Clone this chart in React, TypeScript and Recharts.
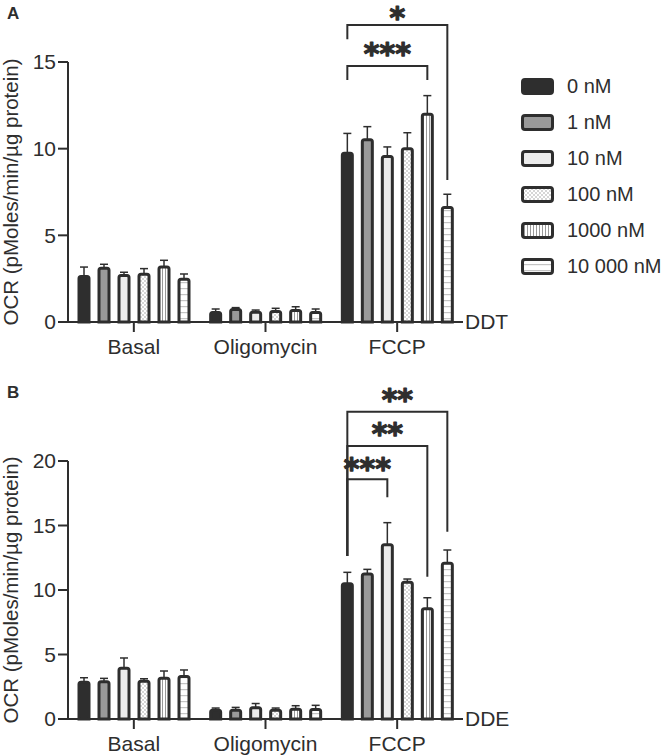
import React from 'react';
import { BarChart, Bar, XAxis, YAxis, ErrorBar, Legend, ReferenceLine, Rectangle, Label } from 'recharts';

const categories = ['Basal', 'Oligomycin', 'FCCP'];
const seriesNames = ['0 nM', '1 nM', '10 nM', '100 nM', '1000 nM', '10 000 nM'];

// Panel A (DDT): mean OCR per concentration, per condition
const ddtBasal = [2.62, 3.1, 2.68, 2.76, 3.18, 2.47];
const ddtBasalErr = [0.55, 0.23, 0.19, 0.32, 0.38, 0.3];
const ddtOligo = [0.55, 0.72, 0.56, 0.6, 0.66, 0.55];
const ddtOligoErr = [0.2, 0.11, 0.13, 0.19, 0.22, 0.2];
const ddtFccp = [9.74, 10.51, 9.55, 9.99, 11.99, 6.6];
const ddtFccpErr = [1.14, 0.76, 0.55, 0.93, 1.07, 0.77];

// Panel B (DDE)
const ddeBasal = [2.84, 2.88, 3.93, 2.93, 3.16, 3.3];
const ddeBasalErr = [0.36, 0.27, 0.8, 0.19, 0.56, 0.5];
const ddeOligo = [0.68, 0.68, 0.88, 0.68, 0.75, 0.73];
const ddeOligoErr = [0.17, 0.22, 0.32, 0.17, 0.28, 0.33];
const ddeFccp = [10.48, 11.25, 13.5, 10.6, 8.54, 12.08];
const ddeFccpErr = [0.89, 0.35, 1.72, 0.25, 0.86, 1.02];

const ddtTicks = [0, 5, 10, 15];
const ddeTicks = [0, 5, 10, 15, 20];

type Bracket = { to: number; text: string; top: number; leftEnd: number; rightEnd: number; textAt: number };
// significance brackets in FCCP group, from 0 nM to series "to" (values in OCR units)
const ddtBrackets: Bracket[] = [
  { to: 4, text: '***', top: 14.77, leftEnd: 13.96, rightEnd: 13.96, textAt: 15.84 },
  { to: 5, text: '*', top: 17.14, leftEnd: 16.31, rightEnd: 8.19, textAt: 17.92 },
];
const ddeBrackets: Bracket[] = [
  { to: 2, text: '***', top: 18.58, leftEnd: 12.64, rightEnd: 17.19, textAt: 19.92 },
  { to: 4, text: '**', top: 21.16, leftEnd: 12.64, rightEnd: 11.03, textAt: 22.56 },
  { to: 5, text: '**', top: 23.82, leftEnd: 12.64, rightEnd: 14.52, textAt: 25.22 },
];

const FONT = '"Liberation Sans", Arial, Helvetica, sans-serif';
const INK = '#2e2e2e';
const BAR_SIZE = 10;
const BAR_GAP = 10;
const STAR_SIZE = 30;
const TICK_SIZE = 21;
const fills = ['#2e2e2e', '#9a9a9a', '#ececec', 'url(#pat100)', 'url(#pat1000)', 'url(#pat10000)'];

function buildRows(means: number[][], errs: number[][]) {
  return categories.map((c, ci) => {
    const row: any = { category: c };
    seriesNames.forEach((_, si) => {
      row[`v${si}`] = means[ci][si];
      row[`e${si}`] = [0, errs[ci][si]];
    });
    return row;
  });
}

const ddtRows = buildRows([ddtBasal, ddtOligo, ddtFccp], [ddtBasalErr, ddtOligoErr, ddtFccpErr]);
const ddeRows = buildRows([ddeBasal, ddeOligo, ddeFccp], [ddeBasalErr, ddeOligoErr, ddeFccpErr]);

function makeShape(si: number, brackets: Bracket[]) {
  return (props: any) => {
    const { x, y, width, height, payload } = props;
    const rect = (
      <Rectangle x={x} y={y} width={width} height={height} radius={[2, 2, 0, 0]} fill={fills[si]} stroke={INK} strokeWidth={3} />
    );
    const mine = brackets.filter((b) => b.to === si);
    if (!mine.length || !payload || payload.category !== 'FCCP') return rect;
    const v = payload[`v${si}`];
    const ppu = height / v;
    const base = y + height;
    const Y = (d: number) => base - d * ppu;
    const cx = x + width / 2;
    const lx = cx - si * (width + BAR_GAP);
    return (
      <g>
        {rect}
        {mine.map((b, i) => (
          <g key={i}>
            <path
              d={`M${lx},${Y(b.leftEnd)}V${Y(b.top)}H${cx}V${Y(b.rightEnd)}`}
              fill="none"
              stroke={INK}
              strokeWidth={2}
            />
            <text
              x={(lx + cx) / 2}
              y={Y(b.textAt) + STAR_SIZE * 0.55}
              textAnchor="middle"
              fontFamily="DejaVu Sans"
              fontWeight="bold"
              fontSize={STAR_SIZE}
              fill={INK}
              stroke={INK}
              strokeWidth={1.2}
              strokeLinejoin="round"
            >
              {b.text}
            </text>
          </g>
        ))}
      </g>
    );
  };
}

const renderLegend = (props: any) => {
  const payload = [...(props.payload || [])].sort(
    (a: any, b: any) => seriesNames.indexOf(a.value) - seriesNames.indexOf(b.value)
  );
  return (
    <div style={{ fontFamily: FONT, fontSize: 20, color: INK, whiteSpace: 'nowrap' }}>
      {payload.map((p: any, i: number) => {
        const idx = seriesNames.indexOf(p.value);
        return (
          <div key={i} style={{ display: 'flex', alignItems: 'center', height: 36 }}>
            <svg width={33} height={17} style={{ marginRight: 13, flex: 'none' }}>
              <rect x={1.5} y={1.5} width={30} height={14} rx={2.5} fill={fills[idx]} stroke={INK} strokeWidth={3} />
            </svg>
            <span>{p.value}</span>
          </div>
        );
      })}
    </div>
  );
};

type PanelProps = {
  rows: any[];
  ticks: number[];
  max: number;
  brackets: Bracket[];
  compound: string;
  legend: boolean;
  top: number;
  height: number;
  marginTop: number;
  marginBottom: number;
  xHeight: number;
};

function Panel(p: PanelProps) {
  return (
    <div style={{ position: 'absolute', left: 0, top: p.top, fontFamily: FONT }}>
      <BarChart
        width={665}
        height={p.height}
        data={p.rows}
        margin={{ top: p.marginTop, right: p.legend ? 59 : 202, left: 10, bottom: p.marginBottom }}
        barGap={BAR_GAP}
        barSize={BAR_SIZE}
      >
        <XAxis
          dataKey="category"
          interval={0}
          height={p.xHeight}
          axisLine={{ stroke: INK, strokeWidth: 2 }}
          tickLine={{ stroke: INK, strokeWidth: 2 }}
          tickSize={10}
          tickMargin={7}
          tick={{ fontSize: TICK_SIZE, fill: INK }}
        />
        <YAxis
          domain={[0, p.max]}
          ticks={p.ticks}
          width={58}
          axisLine={{ stroke: INK, strokeWidth: 2 }}
          tickLine={{ stroke: INK, strokeWidth: 2 }}
          tickSize={10}
          tickMargin={2}
          tick={{ fontSize: TICK_SIZE, fill: INK }}
        >
          <Label
            value="OCR (pMoles/min/µg protein)"
            angle={-90}
            position="insideLeft"
            offset={1}
            style={{ textAnchor: 'middle' }}
            fontSize={20.5}
            fill={INK}
          />
        </YAxis>
        {seriesNames.map((n, si) => (
          <Bar
            key={si}
            dataKey={`v${si}`}
            name={n}
            fill={fills[si]}
            stroke={INK}
            isAnimationActive={false}
            shape={makeShape(si, p.brackets)}
          >
            <ErrorBar dataKey={`e${si}`} width={4} stroke={INK} strokeWidth={1.5} />
          </Bar>
        ))}
        <ReferenceLine
          y={0}
          stroke="none"
          label={{ value: p.compound, position: 'right', offset: 2, fill: INK, fontSize: TICK_SIZE }}
        />
        {p.legend && (
          <Legend
            layout="vertical"
            align="right"
            verticalAlign="top"
            width={143}
            wrapperStyle={{ top: 68, left: 521, right: undefined }}
            content={renderLegend}
          />
        )}
      </BarChart>
    </div>
  );
}

export default function App() {
  return (
    <div style={{ position: 'absolute', left: 0, top: 0, width: 665, height: 755, background: '#fff', overflow: 'hidden' }}>
      <svg width={665} height={755} style={{ position: 'absolute', left: 0, top: 0, pointerEvents: 'none' }}>
        <defs>
          <pattern id="pat100" width="4" height="4" patternUnits="userSpaceOnUse">
            <rect width="4" height="4" fill="#fff" />
            <rect width="2" height="2" fill="#d6d6d6" />
            <rect x="2" y="2" width="2" height="2" fill="#d6d6d6" />
          </pattern>
          <pattern id="pat1000" width="3" height="3" patternUnits="userSpaceOnUse">
            <rect width="3" height="3" fill="#fff" />
            <rect width="1" height="3" fill="#999" />
          </pattern>
          <pattern id="pat10000" width="6" height="6" patternUnits="userSpaceOnUse">
            <rect width="6" height="6" fill="#fff" />
            <rect width="6" height="1.2" fill="#c4c4c4" />
          </pattern>
        </defs>
        <text x={7} y={18.5} fontFamily={FONT} fontWeight="bold" fontSize={17} fill={INK}>A</text>
        <text x={7} y={398} fontFamily={FONT} fontWeight="bold" fontSize={17} fill={INK}>B</text>
      </svg>
      <Panel
        rows={ddtRows}
        ticks={ddtTicks}
        max={15}
        brackets={ddtBrackets}
        compound="DDT"
        legend={true}
        top={0}
        height={377}
        marginTop={62}
        marginBottom={15}
        xHeight={40}
      />
      <Panel
        rows={ddeRows}
        ticks={ddeTicks}
        max={20}
        brackets={ddeBrackets}
        compound="DDE"
        legend={false}
        top={377}
        height={378}
        marginTop={84}
        marginBottom={6}
        xHeight={30}
      />
    </div>
  );
}
